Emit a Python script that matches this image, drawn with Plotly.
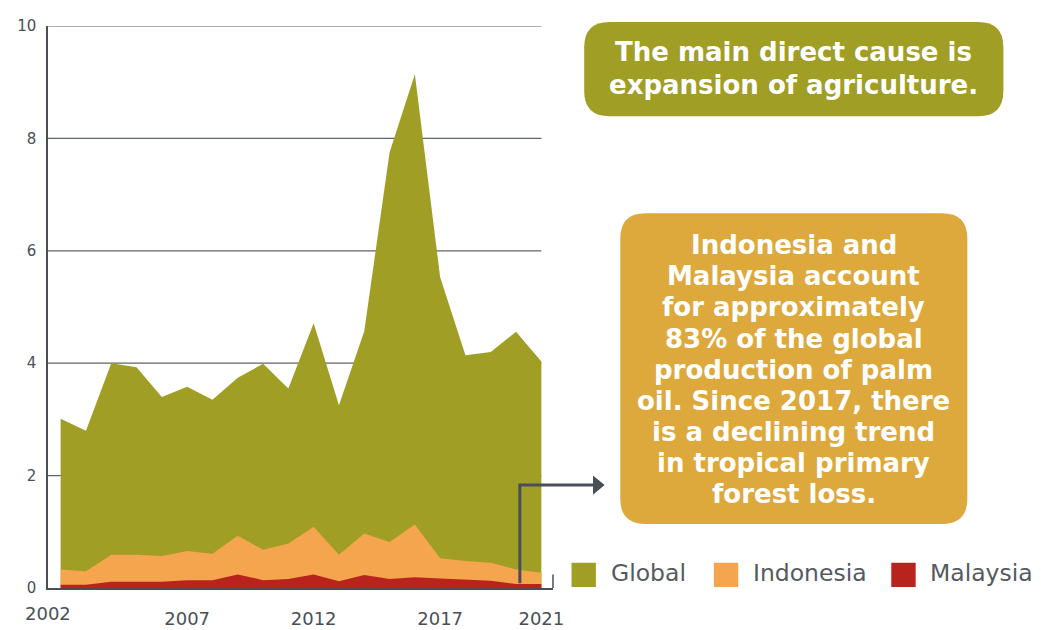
import plotly.graph_objects as go

years = list(range(2002, 2022))
global_loss = [3.01, 2.80, 4.00, 3.93, 3.40, 3.58, 3.35, 3.74, 3.99, 3.55,
               4.71, 3.25, 4.57, 7.75, 9.14, 5.53, 4.14, 4.20, 4.56, 4.03]
indonesia_loss = [0.33, 0.30, 0.59, 0.59, 0.57, 0.66, 0.61, 0.93, 0.68, 0.79,
                  1.09, 0.59, 0.97, 0.82, 1.13, 0.53, 0.48, 0.45, 0.33, 0.27]
malaysia_loss = [0.06, 0.06, 0.11, 0.11, 0.11, 0.14, 0.14, 0.24, 0.14, 0.16,
                 0.24, 0.12, 0.23, 0.16, 0.19, 0.17, 0.15, 0.13, 0.07, 0.07]
series_names = ["Global", "Indonesia", "Malaysia"]
series_colors = ["#A09E24", "#F4A54D", "#B8231E"]
x_tickvals = [2007, 2012, 2017, 2021]
y_tickvals = [0, 2, 4, 6, 8, 10]
first_year_label = "2002"
box1_lines = ["The main direct cause is", "expansion of agriculture."]
box2_lines = ["Indonesia and", "Malaysia account", "for approximately", "83% of the global",
              "production of palm", "oil. Since 2017, there", "is a declining trend",
              "in tropical primary", "forest loss."]

W, H = 1041, 630
OFF = 8  # default page margin of the html body
L, R, T, B = 35, 553, 17, 596  # plot area, screen pixels

def px(x):
    return (x - L) / (R - L)

def py(y):
    return (B - y) / (B - T)

def rounded_rect(x0, y0, x1, y1, r):
    X0, X1 = px(x0), px(x1)
    Y0, Y1 = py(y0), py(y1)
    rx = r / (R - L)
    ry = r / (B - T)
    return (f"M {X0+rx},{Y0} L {X1-rx},{Y0} Q {X1},{Y0} {X1},{Y0-ry} "
            f"L {X1},{Y1+ry} Q {X1},{Y1} {X1-rx},{Y1} "
            f"L {X0+rx},{Y1} Q {X0},{Y1} {X0},{Y1+ry} "
            f"L {X0},{Y0-ry} Q {X0},{Y0} {X0+rx},{Y0} Z")

fig = go.Figure()
for name, vals, col in zip(series_names, [global_loss, indonesia_loss, malaysia_loss], series_colors):
    fig.add_trace(go.Scatter(x=years, y=vals, name=name, mode="lines",
                             line=dict(width=0, color=col), fill="tozeroy",
                             fillcolor=col, showlegend=False, hoverinfo="x+y+name"))

AX = "#4a4f57"
shapes = []
for v in y_tickvals[1:]:
    shapes.append(dict(type="line", xref="x", yref="y", x0=2001.5, x1=years[-1], y0=v, y1=v,
                       line=dict(color="#5f636a", width=1.2), layer="below"))
shapes.append(dict(type="line", xref="paper", yref="paper", x0=1, x1=1, y0=0, y1=py(582),
                   line=dict(color=AX, width=1.5)))
shapes.append(dict(type="path", xref="paper", yref="paper",
                   path=f"M {px(519)},{py(591)} L {px(519)},{py(490)} L {px(596)},{py(490)}",
                   line=dict(color=AX, width=3)))
shapes.append(dict(type="path", xref="paper", yref="paper",
                   path=f"M {px(594)},{py(480)} L {px(606)},{py(490)} L {px(594)},{py(500)} Z",
                   fillcolor=AX, line=dict(color=AX, width=0)))
shapes.append(dict(type="path", xref="paper", yref="paper", path=rounded_rect(585, 13, 1015, 110, 26),
                   fillcolor="#A09E24", line=dict(width=0)))
shapes.append(dict(type="path", xref="paper", yref="paper", path=rounded_rect(622, 210, 978, 530, 26),
                   fillcolor="#DDA93C", line=dict(width=0)))

annotations = []
box_font = dict(family="DejaVu Sans", size=26, color="white", weight="bold")
for i, line in enumerate(box1_lines):
    annotations.append(dict(xref="paper", yref="paper", x=px(800), y=py(44 + 34 * i), text=line,
                            showarrow=False, font=box_font, xanchor="center", yanchor="middle"))
for i, line in enumerate(box2_lines):
    annotations.append(dict(xref="paper", yref="paper", x=px(800), y=py(243 + 32 * i), text=line,
                            showarrow=False, font=box_font, xanchor="center", yanchor="middle"))
annotations.append(dict(xref="paper", yref="paper", x=0, y=py(622), text=first_year_label,
                        showarrow=False, font=dict(family="DejaVu Sans", size=18, color=AX),
                        xanchor="center", yanchor="middle"))

leg_x = [572, 718, 900]
for name, col, lx in zip(series_names, series_colors, leg_x):
    shapes.append(dict(type="rect", xref="paper", yref="paper", x0=px(lx), x1=px(lx + 25),
                       y0=py(595), y1=py(570), fillcolor=col, line=dict(width=0)))
    annotations.append(dict(xref="paper", yref="paper", x=px(lx + 38), y=py(581), text=name,
                            showarrow=False, xanchor="left", yanchor="middle",
                            font=dict(family="DejaVu Sans", size=23.5, color="#555a60")))

fig.update_layout(
    width=W, height=H, autosize=False,
    margin=dict(l=L - OFF, r=W - (R - OFF), t=T - OFF, b=H - (B - OFF), pad=0),
    plot_bgcolor="white", paper_bgcolor="white",
    shapes=shapes, annotations=annotations,
    xaxis=dict(range=[2001.5, 2021.46], tickvals=x_tickvals, ticktext=[str(v) for v in x_tickvals],
               showgrid=False, zeroline=False, showline=True, linecolor=AX, linewidth=1.5,
               ticks="", ticklabelstandoff=14,
               tickfont=dict(family="DejaVu Sans", size=18, color=AX)),
    yaxis=dict(range=[0, 10], tickvals=y_tickvals, showgrid=False, zeroline=False,
               showline=True, linecolor=AX, linewidth=1.5, ticks="", ticklabelstandoff=7,
               tickfont=dict(family="DejaVu Sans", size=15, color=AX)),
    showlegend=False,
)

fig.write_html("out.html", config={"displayModeBar": False})
